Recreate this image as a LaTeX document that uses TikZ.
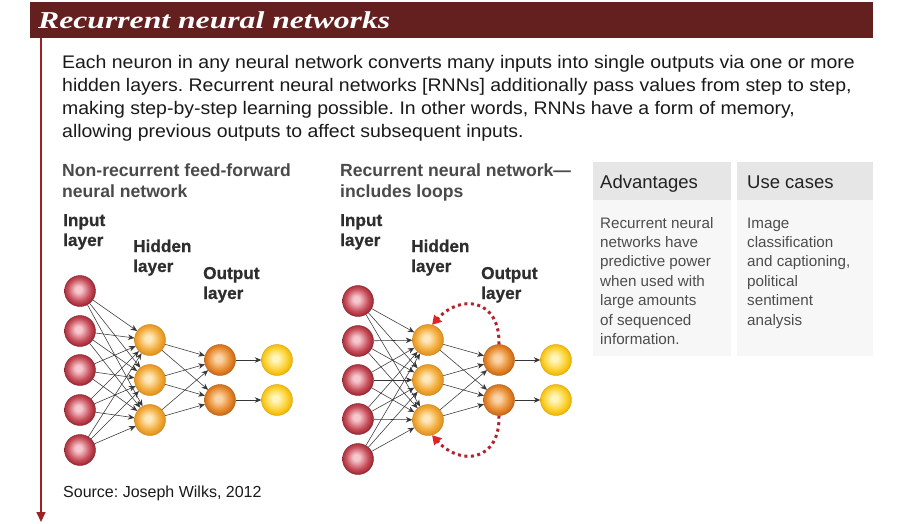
\documentclass[tikz,border=0pt]{standalone}
\usepackage{fontspec}
\setmainfont{Liberation Sans}
\newfontfamily\titlefont{Liberation Serif}
\newfontfamily\heavyfont[FakeBold=0.7]{Liberation Sans}
\usetikzlibrary{arrows.meta}
\frenchspacing
\definecolor{maroon}{HTML}{63201F}
\definecolor{redline}{HTML}{9B2226}
\definecolor{loopred}{HTML}{B3232F}
\definecolor{arrowred}{HTML}{E02424}
\definecolor{txt}{HTML}{1A1A1A}
\definecolor{subtxt}{HTML}{4A4A4A}
\definecolor{lbl}{HTML}{2E2E2E}
\definecolor{hdrbg}{HTML}{E6E6E6}
\definecolor{bodybg}{HTML}{F7F7F7}
\definecolor{tbltxt}{HTML}{4D4D4D}
\definecolor{hdrtxt}{HTML}{222222}
\definecolor{conncol}{HTML}{363636}
% ball colours
\definecolor{inC}{HTML}{F6C8CE}\definecolor{inM}{HTML}{C8505C}\definecolor{inE}{HTML}{9C2632}
\definecolor{hC}{HTML}{FEE8BC}\definecolor{hM}{HTML}{F2AC3C}\definecolor{hE}{HTML}{E08E1A}
\definecolor{oC}{HTML}{FAD4A8}\definecolor{oM}{HTML}{E88C30}\definecolor{oE}{HTML}{C86616}
\definecolor{fC}{HTML}{FFF6BC}\definecolor{fM}{HTML}{FBD234}\definecolor{fE}{HTML}{F0B400}
\pgfdeclareradialshading{inball}{\pgfpoint{-3bp}{3bp}}{color(0bp)=(inC); color(5bp)=(inC); color(18bp)=(inM); color(26bp)=(inE); color(50bp)=(inE)}
\pgfdeclareradialshading{hball}{\pgfpoint{-3bp}{3bp}}{color(0bp)=(hC); color(5bp)=(hC); color(18bp)=(hM); color(26bp)=(hE); color(50bp)=(hE)}
\pgfdeclareradialshading{oball}{\pgfpoint{-3bp}{3bp}}{color(0bp)=(oC); color(5bp)=(oC); color(18bp)=(oM); color(26bp)=(oE); color(50bp)=(oE)}
\pgfdeclareradialshading{fball}{\pgfpoint{-3bp}{3bp}}{color(0bp)=(fC); color(5bp)=(fC); color(18bp)=(fM); color(26bp)=(fE); color(50bp)=(fE)}
\newcommand{\wide}[1]{\scalebox{1.069}[1]{#1}}
\tikzset{
  neuron/.style={circle, minimum size=31pt, inner sep=0pt, line width=0.4pt},
  inn/.style={neuron, shading=inball, draw=inE!85!black},
  hid/.style={neuron, shading=hball, draw=hE!90!black},
  outn/.style={neuron, shading=oball, draw=oE!90!black},
  fin/.style={neuron, shading=fball, draw=fE!90!black},
  conn/.style={draw=conncol, line width=0.55pt, -{Stealth[length=6.5pt,width=5.5pt]}},
  looparrow/.style={draw=loopred, line width=3pt, dash pattern=on 3pt off 3.5pt, -{Triangle[length=9pt,width=10pt,fill=arrowred,color=arrowred]}},
  bodytext/.style={anchor=base west, inner sep=0pt, text=txt, font=\fontsize{18.2}{21}\selectfont},
  subtitle/.style={anchor=base west, inner sep=0pt, text=subtxt, font=\fontsize{17.6}{21}\selectfont\bfseries},
  layerlbl/.style={anchor=base west, inner sep=0pt, text=lbl, font=\fontsize{17.2}{21}\heavyfont\bfseries},
  hdr/.style={anchor=base west, inner sep=0pt, text=hdrtxt, font=\fontsize{18.5}{22}\selectfont},
  tbl/.style={anchor=base west, inner sep=0pt, text=tbltxt, font=\fontsize{15.2}{19}\selectfont},
}
\begin{document}
\begin{tikzpicture}[x=1pt,y=-1pt]
\useasboundingbox[fill=white] (0,0) rectangle (900,523);
% title bar
\fill[maroon] (30,2) rectangle (873,38);
\node[anchor=base west, inner sep=0pt, text=white] (title) at (38,28.5)
  {\resizebox{352pt}{16.8pt}{\titlefont\bfseries\itshape Recurrent neural networks}};
% vertical line
\coordinate (vtop) at (41,38);
\coordinate (vbot) at (41,522);
\draw[redline, line width=1.6pt, -{Triangle[length=10pt,width=9pt]}] (vtop) -- (vbot);
% body paragraph
\node[bodytext] (p1) at (62,68) {\wide{Each neuron in any neural network converts many inputs into single outputs via one or more}};
\node[bodytext] (p2) at (62,91) {\wide{hidden layers. Recurrent neural networks [RNNs] additionally pass values from step to step,}};
\node[bodytext] (p3) at (62,114) {\wide{making step-by-step learning possible. In other words, RNNs have a form of memory,}};
\node[bodytext] (p4) at (62,137) {\wide{allowing previous outputs to affect subsequent inputs.}};
% subtitles
\node[subtitle] (s1a) at (62,176) {Non-recurrent feed-forward};
\node[subtitle] (s1b) at (62,197) {neural network};
\node[subtitle] (s2a) at (340,176) {Recurrent neural network—};
\node[subtitle] (s2b) at (340,197) {includes loops};
% layer labels left
\node[layerlbl] (li1) at (63,226) {Input};
\node[layerlbl] (li2) at (63,246) {layer};
\node[layerlbl] (lh1) at (133,252) {Hidden};
\node[layerlbl] (lh2) at (133,272) {layer};
\node[layerlbl] (lo1) at (203,279) {Output};
\node[layerlbl] (lo2) at (203,299) {layer};
% layer labels right
\node[layerlbl] (ri1) at (340,226) {Input};
\node[layerlbl] (ri2) at (340,246) {layer};
\node[layerlbl] (rh1) at (411,252) {Hidden};
\node[layerlbl] (rh2) at (411,272) {layer};
\node[layerlbl] (ro1) at (481,279) {Output};
\node[layerlbl] (ro2) at (481,299) {layer};
% left network
\node[inn] (a1) at (80,291) {};
\node[inn] (a2) at (80,331) {};
\node[inn] (a3) at (80,370) {};
\node[inn] (a4) at (80,410) {};
\node[inn] (a5) at (80,450) {};
\node[hid] (b1) at (150,340) {};
\node[hid] (b2) at (150,380) {};
\node[hid] (b3) at (150,420) {};
\node[outn] (c1) at (220,360) {};
\node[outn] (c2) at (220,400) {};
\node[fin] (d1) at (277,360) {};
\node[fin] (d2) at (277,400) {};
\foreach \i in {1,...,5}{\foreach \j in {1,2,3}{\draw[conn] (a\i) -- (b\j);}}
\foreach \i in {1,2,3}{\foreach \j in {1,2}{\draw[conn] (b\i) -- (c\j);}}
\draw[conn] (c1) -- (d1);
\draw[conn] (c2) -- (d2);
% right network
\node[inn] (A1) at (358,301) {};
\node[inn] (A2) at (358,341) {};
\node[inn] (A3) at (358,380) {};
\node[inn] (A4) at (358,419) {};
\node[inn] (A5) at (358,459) {};
\node[hid] (B1) at (428,340) {};
\node[hid] (B2) at (428,380) {};
\node[hid] (B3) at (428,420) {};
\node[outn] (C1) at (499,360) {};
\node[outn] (C2) at (499,400) {};
\node[fin] (D1) at (556,360) {};
\node[fin] (D2) at (556,400) {};
\foreach \i in {1,...,5}{\foreach \j in {1,2,3}{\draw[conn] (A\i) -- (B\j);}}
\foreach \i in {1,2,3}{\foreach \j in {1,2}{\draw[conn] (B\i) -- (C\j);}}
\draw[conn] (C1) -- (D1);
\draw[conn] (C2) -- (D2);
% recurrent loops
\draw[looparrow] (C1.north) .. controls (500,298) and (460,294) .. (B1.75);
\draw[looparrow] (C2.south) .. controls (500,462) and (460,466) .. (B3.285);
% table
\fill[hdrbg] (593,162) rectangle (731,200);
\fill[bodybg] (593,200) rectangle (731,356);
\fill[hdrbg] (737,162) rectangle (873,200);
\fill[bodybg] (737,200) rectangle (873,356);
\node[hdr] (h1) at (600,188.5) {Advantages};
\node[hdr] (h2) at (747,188.5) {Use cases};
\foreach \t [count=\k from 0] in {Recurrent neural, networks have, predictive power, when used with, large amounts, of sequenced, information.}
  {\node[tbl] (adv\k) at (600,228+19.4*\k) {\t};}
\foreach \t [count=\k from 0] in {Image, classification, {and captioning,}, political, sentiment, analysis}
  {\node[tbl] (use\k) at (747,228+19.4*\k) {\t};}
% source
\node[anchor=base west, inner sep=0pt, text=txt, font=\fontsize{16}{19}\selectfont] (src) at (63,497) {Source: Joseph Wilks, 2012};
\end{tikzpicture}
\end{document}
